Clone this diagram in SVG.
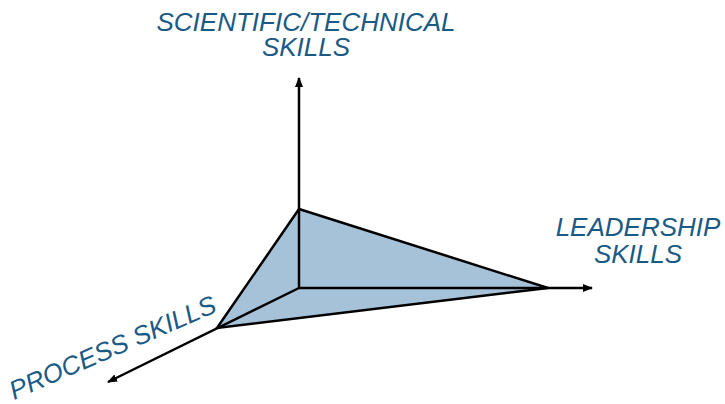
<svg xmlns="http://www.w3.org/2000/svg" width="725" height="404" viewBox="0 0 725 404">
<style>
.lbl{font-family:"Liberation Sans",Arial,sans-serif;font-style:italic;font-size:26px;fill:#1a5a84}
.ax{stroke:#000;stroke-width:2.5;fill:none}
</style>
<defs>
<marker id="ah" viewBox="0 0 10 10" refX="9" refY="5" markerWidth="4" markerHeight="4" orient="auto" markerUnits="strokeWidth">
<path d="M0,1 L10,5 L0,9 Z" fill="#000"/>
</marker>
</defs>
<g id="shape">
<polygon points="299,209 548,288 217,328" fill="#a6c2d9" stroke="#000" stroke-width="2.5" stroke-linejoin="miter"/>
</g>
<g id="connectors">
<line class="ax" x1="299" y1="288" x2="299" y2="78" marker-end="url(#ah)"/>
<line class="ax" x1="299" y1="288" x2="592" y2="288" marker-end="url(#ah)"/>
<line class="ax" x1="299" y1="288" x2="108" y2="382" marker-end="url(#ah)"/>
</g>
<g id="sci">
<text class="lbl" x="306" y="31" text-anchor="middle">SCIENTIFIC/TECHNICAL</text>
<text class="lbl" x="306" y="56" text-anchor="middle">SKILLS</text>
</g>
<g id="lead">
<text class="lbl" x="638" y="236" text-anchor="middle">LEADERSHIP</text>
<text class="lbl" x="638" y="263" text-anchor="middle">SKILLS</text>
</g>
<g id="proc">
<text class="lbl" x="14" y="400" transform="rotate(-23.5 14 400)">PROCESS SKILLS</text>
</g>
</svg>
